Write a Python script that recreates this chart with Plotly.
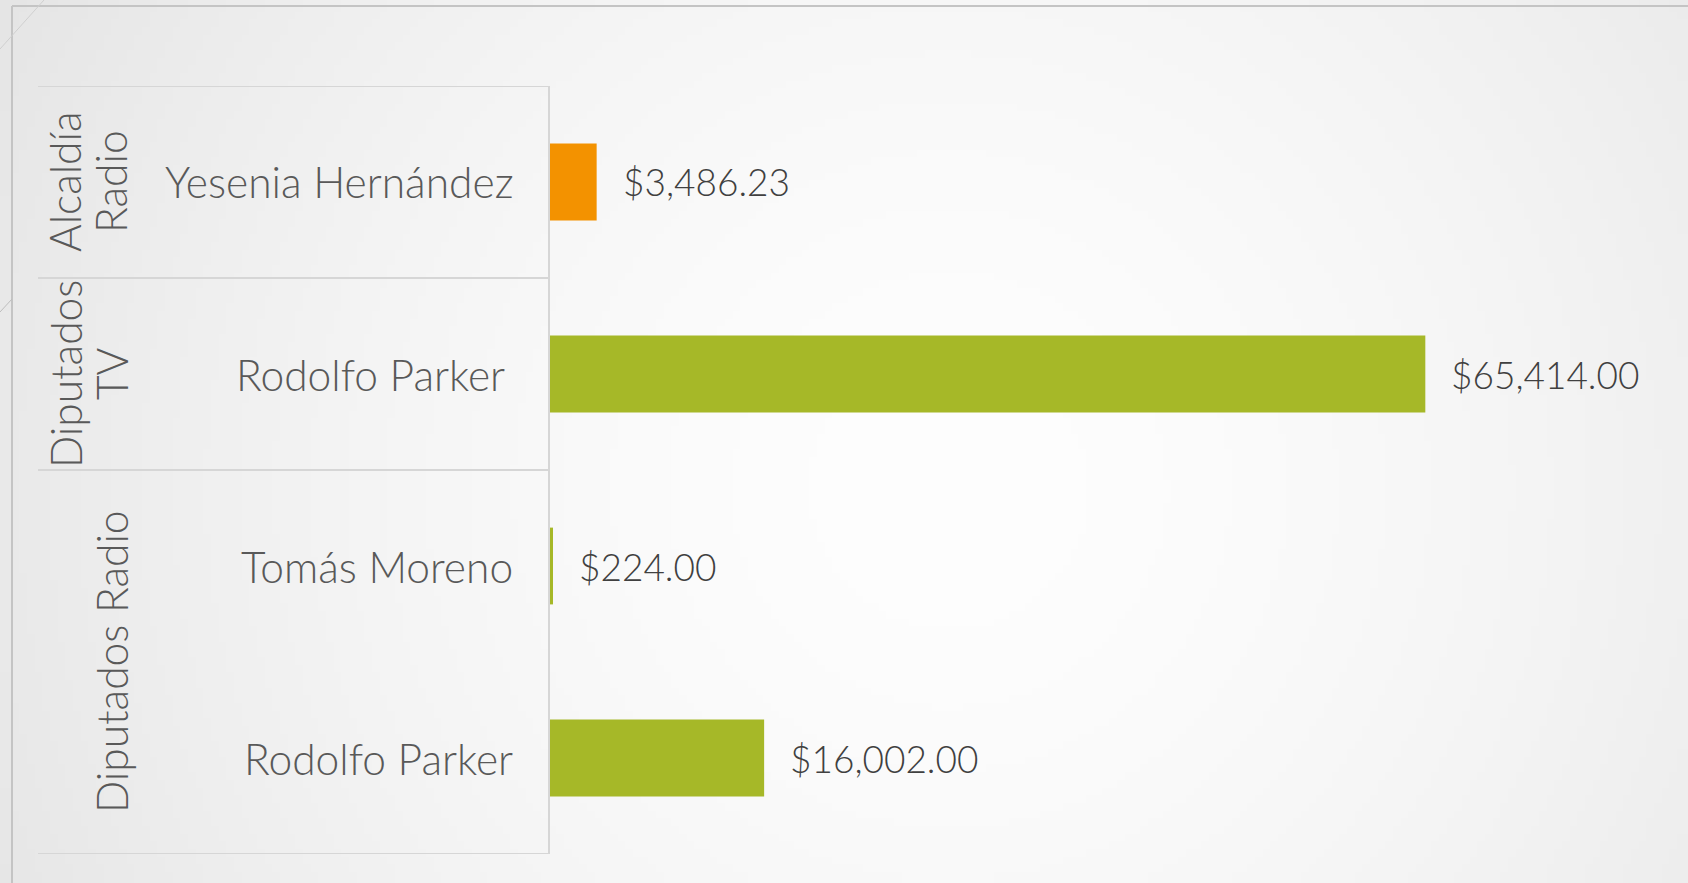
import base64
import struct
import zlib

import numpy as np
import plotly.graph_objects as go

# ---- data -------------------------------------------------------------
groups = ["Alcaldía Radio", "Diputados TV", "Diputados Radio", "Diputados Radio"]
names = ["Yesenia Hernández", "Rodolfo Parker", "Tomás Moreno", "Rodolfo Parker"]
values = [3486.23, 65414.00, 224.00, 16002.00]

group_lines = {
    "Alcaldía Radio": ["Alcaldía", "Radio"],
    "Diputados TV": ["Diputados", "TV"],
    "Diputados Radio": ["Diputados Radio"],
}
group_colors = {
    "Alcaldía Radio": "#F39200",
    "Diputados TV": "#A6B828",
    "Diputados Radio": "#A6B828",
}
# the TV row's name sits a little further from the axis
name_shift = {"Diputados TV": -8}

# ---- page geometry (pixels) -------------------------------------------
W, H = 1688, 883
FONT = "Century Gothic, Lato, sans-serif"
LINE = "#D6D6D6"
X0_PX, X1_PX = 550, 1620.5      # plot area left / right
Y_TOP_PX, Y_BOT_PX = 86, 854    # plot area top / bottom
TABLE_LEFT_PX = 38
X_MAX = 80000
LABEL_SIZE = 42.5
GROUP_LAST_LINE_PX = 111
GROUP_LINE_STEP_PX = 46


def px(x):
    return x / W


def py(y):
    return (H - y) / H


# ---- soft radial background -------------------------------------------
def radial_png(w=220, h=115):
    yy, xx = np.mgrid[0:h, 0:w]
    cx, cy = 0.56 * w, 0.55 * h
    d = np.sqrt(((xx - cx) / (0.62 * w)) ** 2 + ((yy - cy) / (0.62 * w)) ** 2)
    d = np.clip(d, 0, 1.25)
    val = 254 - 24 * d ** 1.6
    img = np.clip(val, 0, 255).astype(np.uint8)
    raw = b"".join(b"\x00" + img[r].tobytes() for r in range(h))

    def chunk(tag, data):
        c = struct.pack(">I", len(data)) + tag + data
        return c + struct.pack(">I", zlib.crc32(tag + data) & 0xFFFFFFFF)

    png = b"\x89PNG\r\n\x1a\n"
    png += chunk(b"IHDR", struct.pack(">IIBBBBB", w, h, 8, 0, 0, 0, 0))
    png += chunk(b"IDAT", zlib.compress(raw, 9))
    png += chunk(b"IEND", b"")
    return "data:image/png;base64," + base64.b64encode(png).decode()


# ---- bars ---------------------------------------------------------------
keys = [f"{g} · {n}" for g, n in zip(groups, names)]

fig = go.Figure(
    go.Bar(
        x=values,
        y=keys,
        orientation="h",
        marker=dict(color=[group_colors[g] for g in groups], line=dict(width=0)),
        width=0.4,
        hoverinfo="skip",
    )
)

annotations = []

# value labels just past each bar end
for k, v in zip(keys, values):
    annotations.append(dict(
        x=v, y=k, xref="x", yref="y", text=f"${v:,.2f}",
        showarrow=False, xanchor="left", yanchor="middle", xshift=24,
        font=dict(family=FONT, size=37, color="#404040", weight=300),
    ))

# candidate names, right aligned in the table's second column
for k, g, n in zip(keys, groups, names):
    annotations.append(dict(
        x=px(515), y=k, xref="paper", yref="y", text=n,
        showarrow=False, xanchor="right", yanchor="middle",
        xshift=name_shift.get(g, 0),
        font=dict(family=FONT, size=LABEL_SIZE, color="#595959", weight=300),
    ))

# rotated group labels, centred on their rows, one annotation per line
ordered_groups = list(dict.fromkeys(groups))
for g in ordered_groups:
    idx = [i for i, gg in enumerate(groups) if gg == g]
    lines = group_lines[g]
    for j, text in enumerate(lines):
        gx = GROUP_LAST_LINE_PX - (len(lines) - 1 - j) * GROUP_LINE_STEP_PX
        annotations.append(dict(
            x=px(gx), y=float(np.mean(idx)), xref="paper", yref="y", text=text,
            showarrow=False, xanchor="center", yanchor="middle", textangle=-90,
            font=dict(family=FONT, size=LABEL_SIZE, color="#595959", weight=300),
        ))

shapes = []
# table rules at the group boundaries
bounds = [-0.5]
for g in ordered_groups:
    idx = [i for i, gg in enumerate(groups) if gg == g]
    bounds.append(max(idx) + 0.5)
for b in bounds:
    shapes.append(dict(
        type="line", xref="paper", yref="y",
        x0=px(TABLE_LEFT_PX), x1=px(X0_PX), y0=b, y1=b,
        line=dict(color=LINE, width=2),
    ))

# slide frame and corner strokes
frame = "#C4C4C4"
shapes += [
    dict(type="line", xref="paper", yref="paper", x0=px(12), x1=1, y0=py(6), y1=py(6),
         line=dict(color=frame, width=2)),
    dict(type="line", xref="paper", yref="paper", x0=px(12), x1=px(12), y0=py(6), y1=0,
         line=dict(color=frame, width=2)),
    dict(type="line", xref="paper", yref="paper", x0=0, x1=px(44), y0=py(49), y1=py(0),
         line=dict(color="#CFCFCF", width=1)),
    dict(type="line", xref="paper", yref="paper", x0=0, x1=px(12), y0=py(312), y1=py(299),
         line=dict(color="#BDBDBD", width=1)),
]

fig.update_layout(
    width=W,
    height=H,
    margin=dict(l=0, r=0, t=0, b=0),
    paper_bgcolor="#EFEFEF",
    plot_bgcolor="rgba(0,0,0,0)",
    showlegend=False,
    bargap=0.6,
    font=dict(family=FONT, color="#595959"),
    xaxis=dict(
        domain=[px(X0_PX), px(X1_PX)],
        range=[0, X_MAX],
        visible=False,
        fixedrange=True,
    ),
    yaxis=dict(
        domain=[py(Y_BOT_PX), py(Y_TOP_PX)],
        type="category",
        categoryorder="array",
        categoryarray=keys,
        range=[len(keys) - 0.5, -0.5],
        showticklabels=False,
        ticks="",
        showgrid=False,
        zeroline=False,
        showline=True,
        linecolor=LINE,
        linewidth=2,
        fixedrange=True,
    ),
    images=[dict(
        source=radial_png(), xref="paper", yref="paper", x=0, y=1,
        sizex=1, sizey=1, sizing="stretch", layer="below", xanchor="left", yanchor="top",
    )],
    annotations=annotations,
    shapes=shapes,
)

fig.write_html("out.html", config={"displayModeBar": False})
